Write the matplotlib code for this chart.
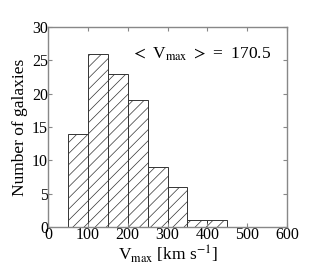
import numpy as np
import matplotlib
matplotlib.use('Agg')
import matplotlib.pyplot as plt

plt.rcParams['font.family'] = ['Liberation Serif', 'DejaVu Serif']
plt.rcParams['mathtext.fontset'] = 'stix'
plt.rcParams['hatch.linewidth'] = 0.5
plt.rcParams['hatch.color'] = '#555555'

# histogram bins (km/s) and counts
bin_edges = [50, 100, 150, 200, 250, 300, 350, 400, 450, 500, 550]
counts = [14, 26, 23, 19, 9, 6, 1, 1, 0, 0]
mean_vmax = 170.5

fig = plt.figure(figsize=(3.2, 2.67), dpi=100)
ax = fig.add_axes([0.15, 0.15, 0.747, 0.749])

lefts = np.array(bin_edges[:-1])
widths = np.diff(bin_edges)
ax.bar(lefts, counts, width=widths, align='edge', facecolor='white',
       edgecolor='#333333', linewidth=0.7, hatch='///')

ax.set_xlim(0, 600)
ax.set_ylim(0, 30)
ax.set_xticks(np.arange(0, 601, 100))
ax.set_yticks(np.arange(0, 31, 5))
ax.tick_params(direction='in', top=True, right=True, labelsize=11.5,
               length=3, color='#888888', pad=0)
for s in ax.spines.values():
    s.set_color('#888888')
    s.set_linewidth(1.0)

ax.set_xlabel(r'V$_{\rm max}$ [km s$^{-1}$]', fontsize=12.5, labelpad=0)
ax.set_ylabel('Number of galaxies', fontsize=12.5, labelpad=3)
ax.text(0.935, 0.865, r'$<$ V$_{\rm max}$ $>$ =  ' + str(mean_vmax),
        transform=ax.transAxes, ha='right', va='center', fontsize=12.5)

fig.savefig('out.png', dpi=100)
